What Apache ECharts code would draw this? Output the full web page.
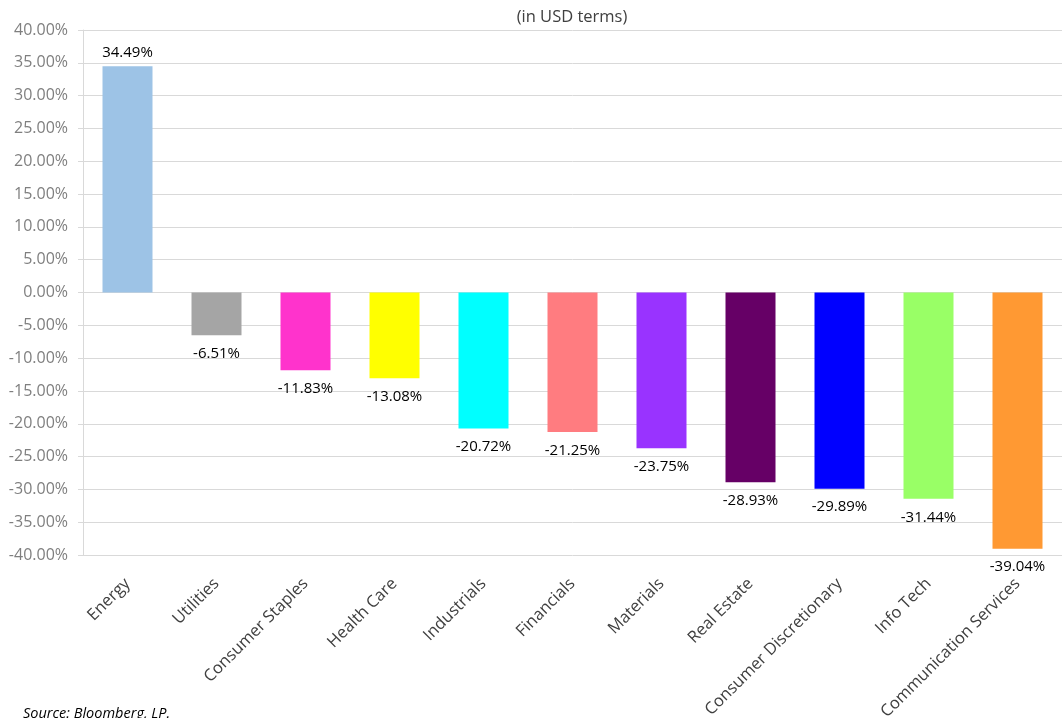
<!DOCTYPE html>
<html><head><meta charset="utf-8">
<script src="https://cdn.jsdelivr.net/npm/echarts@6/dist/echarts.min.js"></script>
<style>html,body{margin:0;padding:0;background:#fff}#c{width:1062px;height:718px}</style>
</head><body><div id="c"></div>
<script>
const categories = ['Energy','Utilities','Consumer Staples','Health Care','Industrials','Financials','Materials','Real Estate','Consumer Discretionary','Info Tech','Communication Services'];
const returns = [34.49,-6.51,-11.83,-13.08,-20.72,-21.25,-23.75,-28.93,-29.89,-31.44,-39.04];
const barColors = ['#9DC3E6','#A5A5A5','#FF33CC','#FFFF00','#00FFFF','#FF7C80','#9933FF','#660066','#0000FF','#99FF66','#FF9933'];
const titleText = '(in USD terms)';
const sourceText = 'Source: Bloomberg, LP.';
const font = '"Open Sans", sans-serif';
const chart = echarts.init(document.getElementById('c'));
chart.setOption({
  animation:false,
  title:[{text:titleText,left:567,top:4,textAlign:'center',textStyle:{fontFamily:font,fontSize:16.5,fontWeight:'normal',color:'#404040'}},
         {text:sourceText,left:18,top:701,textStyle:{fontFamily:font,fontSize:14.5,fontStyle:'italic',fontWeight:'normal',color:'#000'}}],
  grid:{left:83,right:0,top:30,bottom:163,containLabel:false,outerBoundsMode:'none'},
  xAxis:{type:'category',data:categories,
    axisLine:{show:false},axisTick:{show:false},
    axisLabel:{rotate:45,interval:0,margin:26,fontFamily:font,fontSize:16.5,color:'#404040'}},
  yAxis:{type:'value',min:-40,max:40,interval:5,
    axisLine:{show:true,lineStyle:{color:'#D9D9D9'}},
    axisTick:{show:true,length:5,lineStyle:{color:'#D9D9D9'}},
    splitLine:{lineStyle:{color:'#D9D9D9'}},
    axisLabel:{formatter:v=>v.toFixed(2)+'%',margin:15,fontFamily:font,fontSize:16,color:'#7F7F7F'}},
  series:[{type:'bar',barWidth:50,
    data:returns.map((v,i)=>({value:v,itemStyle:{color:barColors[i]},
      label:{show:true,position:v>=0?'top':'bottom',distance:v>=0?6:11}})),
    label:{formatter:p=>p.value.toFixed(2)+'%',fontFamily:font,fontSize:15,color:'#000'}}]
});
</script></body></html>
